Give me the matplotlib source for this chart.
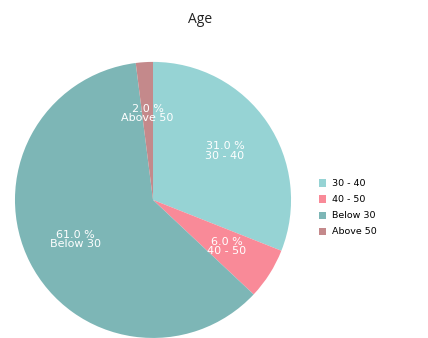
import matplotlib
matplotlib.use("Agg")
import matplotlib.pyplot as plt
import numpy as np

labels = ["30 - 40", "40 - 50", "Below 30", "Above 50"]
shares = [31.0, 6.0, 61.0, 2.0]
colors = ["#96d3d4", "#f98a98", "#7db6b6", "#c4898b"]

fig = plt.figure(figsize=(4.28, 3.38), dpi=100)
ax = fig.add_axes([0.035, 0.0, 0.645, 0.817])

wedges, texts = ax.pie(shares, colors=colors, startangle=90, counterclock=False,
                       radius=1.0, labeldistance=None)
for w, lab, val in zip(wedges, labels, shares):
    ang = np.deg2rad((w.theta1 + w.theta2) / 2)
    r = 0.63
    ax.text(r * np.cos(ang), r * np.sin(ang), f"{val:.1f} %\n{lab}",
            ha="center", va="center", color="white", fontsize=8,
            linespacing=0.9, family="DejaVu Sans")

ax.set_xlim(-1, 1)
ax.set_ylim(-1, 1)
ax.set_aspect("equal")

fig.text(0.467, 0.942, "Age", ha="center", va="center", fontsize=10,
         family="Open Sans", color="#222222")

leg = fig.legend(wedges, labels, loc="center left", bbox_to_anchor=(0.725, 0.385),
                 frameon=False, fontsize=6.8, handlelength=0.8, handleheight=0.8,
                 handletextpad=0.6, labelspacing=0.75)

fig.savefig("out.png", dpi=100, facecolor="white")
